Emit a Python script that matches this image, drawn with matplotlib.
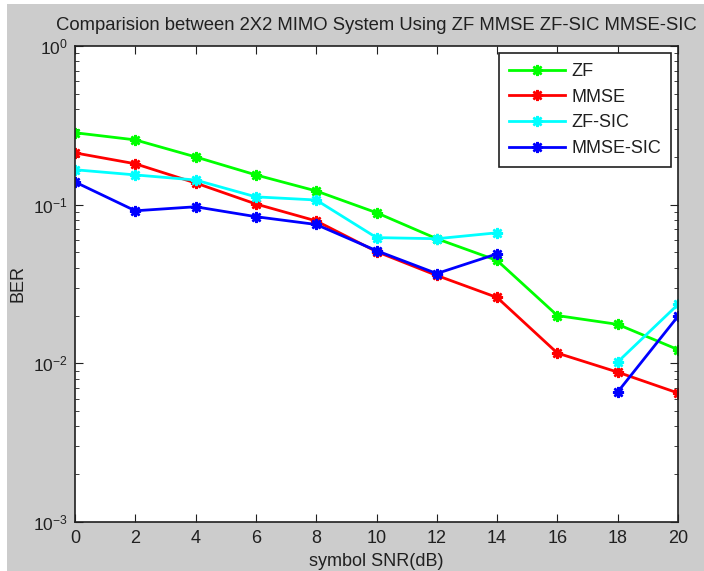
import numpy as np
import matplotlib
matplotlib.use("Agg")
import matplotlib.pyplot as plt
from matplotlib.patches import Rectangle

plt.rcParams['font.family'] = ['Liberation Sans', 'DejaVu Sans']
plt.rcParams['mathtext.fontset'] = 'custom'
plt.rcParams['mathtext.rm'] = 'Liberation Sans'

# data
snr = [0, 2, 4, 6, 8, 10, 12, 14, 16, 18, 20]
ber_zf = [0.284, 0.256, 0.200, 0.154, 0.122, 0.089, 0.061, 0.0445, 0.0200, 0.0176, 0.0122]
ber_mmse = [0.212, 0.181, 0.137, 0.101, 0.079, 0.0506, 0.0358, 0.026, 0.0116, 0.0088, 0.0065]
ber_zfsic = [0.166, 0.154, 0.143, 0.112, 0.107, 0.062, 0.061, 0.0665, np.nan, 0.0102, 0.0235]
ber_mmsesic = [0.139, 0.0915, 0.097, 0.084, 0.075, 0.0513, 0.0368, 0.049, np.nan, 0.0066, 0.0198]

labels = ["ZF", "MMSE", "ZF-SIC", "MMSE-SIC"]
colors = ["#00ff00", "#ff0000", "#00ffff", "#0000ff"]

fig = plt.figure(figsize=(7.04, 5.71), dpi=100)
fig.patch.set_facecolor("white")
fig.patches.append(Rectangle((7/704, 0), 1, 1 - 4/571, transform=fig.transFigure,
                             facecolor="#cccccc", edgecolor="none", zorder=-10))

ax = fig.add_axes([75/704, 49/571, 603/704, 476/571])
ax.set_facecolor("white")

mk = (8, 2, 0)
for ys, lab, c in zip([ber_zf, ber_mmse, ber_zfsic, ber_mmsesic], labels, colors):
    ax.plot(snr, ys, color=c, lw=2, marker=mk, ms=8, mew=1.8, mec=c, label=lab)

ax.set_yscale("log")
ax.set_ylim(1e-3, 1)
ax.set_xlim(0, 20)
ax.set_xticks(snr)
ax.tick_params(which="both", direction="in", top=True, right=True,
               labelsize=13, colors="#202020")
ax.tick_params(which="major", length=6)
ax.tick_params(which="minor", length=3)
ax.tick_params(axis="x", which="minor", bottom=False, top=False)
ax.tick_params(axis="x", pad=6)
ax.tick_params(axis="y", pad=5, labelsize=12.5)
for s in ax.spines.values():
    s.set_linewidth(1.2)
    s.set_color("#202020")

ax.set_xlabel("symbol SNR(dB)", fontsize=13, labelpad=4, color="#202020")
ax.set_ylabel("BER", fontsize=13, labelpad=5, color="#202020")
ax.set_title("Comparision between 2X2 MIMO System Using ZF MMSE ZF-SIC MMSE-SIC",
             fontsize=13.3, pad=11.5, color="#202020")

leg = ax.legend(loc="upper right", fontsize=13, fancybox=False, framealpha=1,
                edgecolor="#202020", borderaxespad=0.4, handlelength=3.1,
                handletextpad=0.35, labelspacing=0.48, borderpad=0.55)
leg.get_frame().set_linewidth(1.2)
for t in leg.get_texts():
    t.set_color("#202020")

fig.savefig("out.png", dpi=100, facecolor=fig.get_facecolor())
